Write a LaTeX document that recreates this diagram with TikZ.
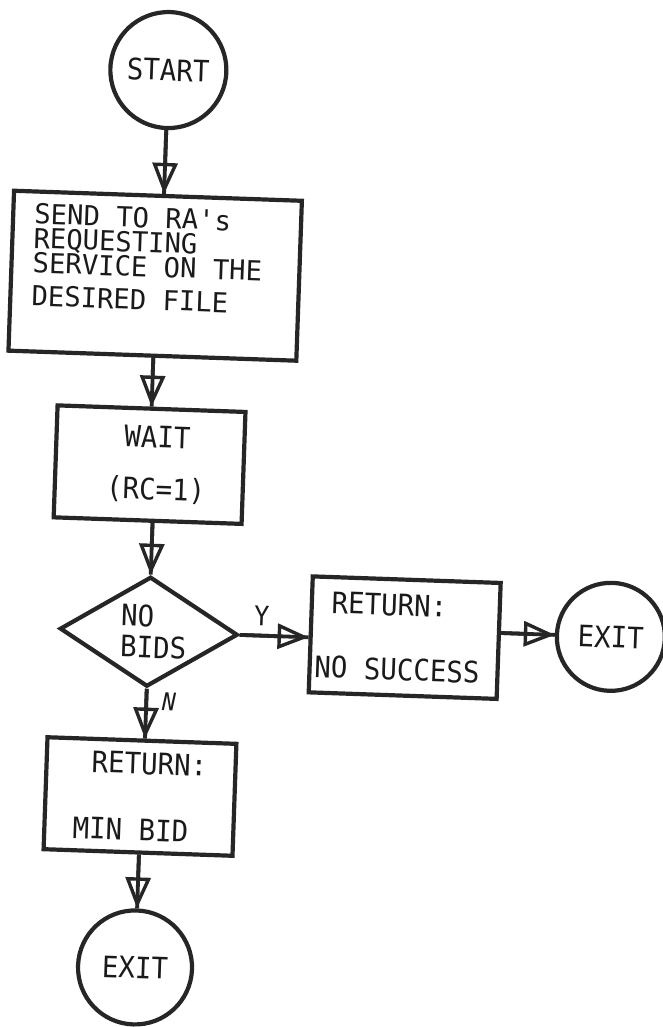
\documentclass[tikz,border=0pt]{standalone}
\usepackage{fontspec}
\usetikzlibrary{shapes.geometric,arrows.meta}
\newfontfamily\typefont[FakeStretch=0.93]{DejaVu Sans Mono}
\newfontfamily\typefontwide[FakeStretch=0.99]{DejaVu Sans Mono}
\definecolor{ink}{HTML}{262626}
\definecolor{textink}{HTML}{1A1A1A}

\tikzset{
  outline/.style={draw=ink, line width=4.2pt},
  flowtext/.style={font=\typefont\fontsize{29.5}{31}\selectfont, text=textink, inner sep=0pt},
  stepbox/.style={outline, rectangle, flowtext},
  terminal/.style={outline, circle, flowtext},
  decision/.style={outline, diamond, aspect=1.6, flowtext},
  edgelabel/.style={flowtext},
  flow/.style={draw=ink, line width=3.8pt,
    -{Triangle[open, length=31pt, width=25pt, line width=3.4pt]},
    postaction={draw=ink, line width=3.8pt, arrows=-}}
}

\begin{document}
\begin{tikzpicture}[x=1pt, y=-1pt]
  \fill[white] (0,0) rectangle (663,1027);
  \useasboundingbox (0,0) rectangle (663,1027);
  \begin{scope}[rotate around={-2:(331,513)}, transform shape]
    % steps of the request
    \node[terminal, minimum size=116pt] (start) at (153,76) {START};
    \node[stepbox, minimum width=288pt, minimum height=160pt] (request) at (147,282) {};
    \node[flowtext, font=\typefontwide\fontsize{27.5}{24.5}\selectfont, align=left, anchor=north west]
      (requesttext) at (24,213.7) {SEND TO RA's\\REQUESTING\\SERVICE ON THE\\[8.5pt]DESIRED FILE};
    \node[stepbox, minimum width=188pt, minimum height=112pt, align=center]
      (wait) at (148,471) {\hspace*{14pt}WAIT\\[21pt]\hspace*{14pt}(RC=1)};
    \node[decision, minimum width=178pt, minimum height=110pt, align=left]
      (nobids) at (153,638) {\hspace*{10pt}NO\\\hspace*{10pt}BIDS};
    \node[stepbox, minimum width=188pt, minimum height=116pt, align=left]
      (fail) at (409,635) {\hspace*{15pt}RETURN:\\[33.7pt]NO SUCCESS\hspace*{13pt}};
    \node[terminal, minimum size=108pt] (exitright) at (615,627) {EXIT};
    \node[stepbox, minimum width=189pt, minimum height=112pt, align=left]
      (minbid) at (150,803) {\hspace*{16.6pt}RETURN:\\[35.5pt]MIN BID};
    \node[terminal, minimum size=114pt] (exitbottom) at (151,974) {EXIT};

    % connectors
    \draw[flow] (start.south) -- (start.south |- request.north);
    \draw[flow] (wait.north |- request.south) -- (wait.north);
    \draw[flow] (nobids.north |- wait.south) -- (nobids.north);
    \draw[flow] (nobids.east) --
      node[edgelabel, font=\typefont\fontsize{27}{29}\selectfont, pos=0.31, above=8pt] (ylabel) {Y}
      (nobids.east -| fail.west);
    \draw[flow] (exitright.west -| fail.east) -- (exitright.west);
    \draw[flow] (nobids.south) --
      node[edgelabel, font=\typefont\itshape\fontsize{24.5}{26}\selectfont, pos=0.25, right=14pt] (nlabel) {N}
      (nobids.south |- minbid.north);
    \draw[flow] (exitbottom.north |- minbid.south) -- (exitbottom.north);
  \end{scope}
\end{tikzpicture}
\end{document}
